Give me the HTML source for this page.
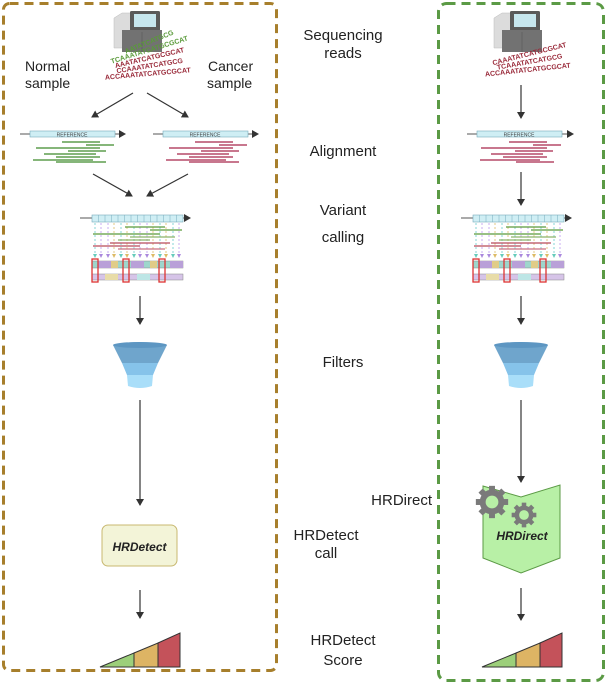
<!DOCTYPE html>
<html><head><meta charset="utf-8"><style>
html,body{margin:0;padding:0;background:#fff;}
svg{display:block;font-family:"Liberation Sans",sans-serif;}
</style></head><body>
<svg width="607" height="685" viewBox="0 0 607 685" xmlns="http://www.w3.org/2000/svg">
<defs>
<marker id="ah" markerWidth="8" markerHeight="8" refX="6" refY="4" orient="auto" markerUnits="userSpaceOnUse"><path d="M0,0 L7,4 L0,8 Z" fill="#333"/></marker>
<g id="seq">
  <path d="M-26,-20 L-18,-25 L0,-25 L0,10 L-26,10 Z" fill="#dcdcdc" stroke="#bbb" stroke-width="0.5"/>
  <rect x="-10" y="-27" width="30" height="20" rx="1.5" fill="#5a5a5a"/>
  <rect x="-6" y="-24" width="22" height="13" fill="#c6e6ee"/>
  <rect x="-18" y="-8" width="40" height="22" fill="#727272"/>
  <line x1="2" y1="-6" x2="2" y2="14" stroke="#5e5e5e" stroke-width="0.8"/>
</g>
<g id="funnel">
  <path d="M-27,0 Q0,-6 27,0 L18,18 L-18,18 Z" fill="#6fa5cc"/>
  <ellipse cx="0" cy="0" rx="27" ry="3" fill="#5d96c2"/>
  <path d="M-18,18 L18,18 L13,30 L-13,30 Z" fill="#86c3ea"/>
  <path d="M-13,30 L13,30 L12,41 Q0,45 -12,41 Z" fill="#a9def9"/>
</g>
<g id="var">
  <line x1="80" y1="218" x2="190" y2="218" stroke="#555" stroke-width="1" marker-end="url(#ah)"/>
  <rect x="92" y="215" width="91" height="7" fill="#cfeef4" stroke="#7ab" stroke-width="0.6"/>
  <g stroke="#7ab" stroke-width="0.5">
   <line x1="98.5" y1="215" x2="98.5" y2="222"/><line x1="105" y1="215" x2="105" y2="222"/><line x1="111.5" y1="215" x2="111.5" y2="222"/><line x1="118" y1="215" x2="118" y2="222"/><line x1="124.5" y1="215" x2="124.5" y2="222"/><line x1="131" y1="215" x2="131" y2="222"/><line x1="137.5" y1="215" x2="137.5" y2="222"/><line x1="144" y1="215" x2="144" y2="222"/><line x1="150.5" y1="215" x2="150.5" y2="222"/><line x1="157" y1="215" x2="157" y2="222"/><line x1="163.5" y1="215" x2="163.5" y2="222"/><line x1="170" y1="215" x2="170" y2="222"/><line x1="176.5" y1="215" x2="176.5" y2="222"/>
  </g>
  <g stroke-dasharray="2,2" stroke-width="0.8">
   <line x1="95" y1="223" x2="95" y2="255" stroke="#6cc"/><line x1="101" y1="223" x2="101" y2="255" stroke="#b9e"/><line x1="108" y1="223" x2="108" y2="255" stroke="#b9e"/><line x1="114" y1="223" x2="114" y2="255" stroke="#db6"/><line x1="121" y1="223" x2="121" y2="255" stroke="#6cc"/><line x1="127" y1="223" x2="127" y2="255" stroke="#db6"/><line x1="134" y1="223" x2="134" y2="255" stroke="#6cc"/><line x1="140" y1="223" x2="140" y2="255" stroke="#b9e"/><line x1="147" y1="223" x2="147" y2="255" stroke="#b9e"/><line x1="153" y1="223" x2="153" y2="255" stroke="#db6"/><line x1="160" y1="223" x2="160" y2="255" stroke="#6cc"/><line x1="166" y1="223" x2="166" y2="255" stroke="#db6"/><line x1="173" y1="223" x2="173" y2="255" stroke="#6cc"/><line x1="179" y1="223" x2="179" y2="255" stroke="#b9e"/>
  </g>
  <g stroke-width="1.3">
   <line x1="125" y1="227" x2="165" y2="227" stroke="#5a9a3a"/><line x1="150" y1="230" x2="182" y2="230" stroke="#5a9a3a"/><line x1="93" y1="234" x2="160" y2="234" stroke="#5a9a3a"/><line x1="130" y1="237" x2="175" y2="237" stroke="#8cb36a"/><line x1="118" y1="240" x2="150" y2="240" stroke="#8cb36a"/><line x1="110" y1="243" x2="170" y2="243" stroke="#b84a5a"/><line x1="93" y1="246" x2="140" y2="246" stroke="#b84a5a"/><line x1="118" y1="249" x2="165" y2="249" stroke="#c97080"/>
  </g>
  <g>
   <path d="M93,254 h4 l-2,4z" fill="#6cb"/><path d="M99,254 h4 l-2,4z" fill="#a8d"/><path d="M106,254 h4 l-2,4z" fill="#a8d"/><path d="M112,254 h4 l-2,4z" fill="#db6"/><path d="M119,254 h4 l-2,4z" fill="#6cb"/><path d="M125,254 h4 l-2,4z" fill="#db6"/><path d="M132,254 h4 l-2,4z" fill="#6cb"/><path d="M138,254 h4 l-2,4z" fill="#a8d"/><path d="M145,254 h4 l-2,4z" fill="#a8d"/><path d="M151,254 h4 l-2,4z" fill="#db6"/><path d="M158,254 h4 l-2,4z" fill="#6cb"/><path d="M164,254 h4 l-2,4z" fill="#db6"/><path d="M171,254 h4 l-2,4z" fill="#6cb"/><path d="M177,254 h4 l-2,4z" fill="#a8d"/>
  </g>
  <rect x="92" y="261" width="91" height="7" fill="#9ed6cc" stroke="#888" stroke-width="0.5"/>
  <rect x="98" y="261" width="13" height="7" fill="#b9a0d8"/><rect x="111" y="261" width="7" height="7" fill="#e0cc88"/><rect x="131" y="261" width="13" height="7" fill="#b9a0d8"/><rect x="150" y="261" width="7" height="7" fill="#e0cc88"/><rect x="170" y="261" width="13" height="7" fill="#b9a0d8"/>
  <rect x="92" y="274" width="91" height="6" fill="#d6c4e8" stroke="#888" stroke-width="0.5"/>
  <rect x="105" y="274" width="13" height="6" fill="#e8dca8"/><rect x="137" y="274" width="13" height="6" fill="#bde6e6"/>
  <g fill="none" stroke="#d33" stroke-width="1.3"><rect x="92" y="259" width="6" height="23"/><rect x="123" y="259" width="6" height="23"/><rect x="159" y="259" width="6" height="23"/></g>
</g>
<g id="tri">
  <path d="M0,34 L34,20 L34,34 Z" fill="#9ccf7a" stroke="#333" stroke-width="1"/>
  <path d="M34,20 L58,10 L58,34 L34,34 Z" fill="#ddb464" stroke="#333" stroke-width="1"/>
  <path d="M58,10 L80,0 L80,34 L58,34 Z" fill="#c4525a" stroke="#333" stroke-width="1"/>
</g>
<g id="gear">
  <circle r="11" fill="none" stroke="#7a7a7a" stroke-width="7"/>
  <g fill="#7a7a7a"><rect x="-3.5" y="-19" width="7" height="7"/><rect x="-3.5" y="12" width="7" height="7"/><rect x="-19" y="-3.5" width="7" height="7"/><rect x="12" y="-3.5" width="7" height="7"/>
  <g transform="rotate(45)"><rect x="-3.5" y="-19" width="7" height="7"/><rect x="-3.5" y="12" width="7" height="7"/><rect x="-19" y="-3.5" width="7" height="7"/><rect x="12" y="-3.5" width="7" height="7"/></g></g>
</g>
</defs>

<rect x="3.5" y="3.5" width="273" height="667" rx="6" fill="none" stroke="#a77f2c" stroke-width="3" stroke-dasharray="9,6"/>
<rect x="438.5" y="3.5" width="165" height="677" rx="8" fill="none" stroke="#5b9a45" stroke-width="3" stroke-dasharray="9,6"/>

<g font-size="15" fill="#222" text-anchor="middle">
<text x="343" y="40">Sequencing</text><text x="343" y="58">reads</text>
<text x="343" y="156">Alignment</text>
<text x="343" y="215">Variant</text><text x="343" y="242">calling</text>
<text x="343" y="367">Filters</text>
<text x="432" y="505" text-anchor="end">HRDirect</text>
<text x="326" y="540">HRDetect</text><text x="326" y="558">call</text>
<text x="343" y="645">HRDetect</text><text x="343" y="665">Score</text>
</g>

<!-- LEFT -->
<use href="#seq" x="140" y="38"/>
<g font-size="7" font-weight="bold" text-anchor="middle">
<text x="150" y="44" fill="#5a9a3a" transform="rotate(-22 150 44)">AATATCATGCG</text>
<text x="150" y="52" fill="#5a9a3a" transform="rotate(-17 150 52)">TCAAATATCATGCGCAT</text>
<text x="150" y="60" fill="#9a2a3a" transform="rotate(-13 150 60)">AAATATCATGCGCAT</text>
<text x="150" y="68" fill="#9a2a3a" transform="rotate(-9 150 68)">CCAAATATCATGCG</text>
<text x="148" y="76" fill="#9a2a3a" transform="rotate(-5 148 76)">ACCAAATATCATGCGCAT</text>
</g>
<g font-size="14" fill="#222">
<text x="25" y="71">Normal</text><text x="25" y="88">sample</text>
<text x="208" y="71">Cancer</text><text x="207" y="88">sample</text>
</g>
<g stroke="#333" stroke-width="1.2" marker-end="url(#ah)">
<line x1="133" y1="93" x2="92" y2="117"/><line x1="147" y1="93" x2="188" y2="117"/>
<line x1="93" y1="174" x2="132" y2="196"/><line x1="188" y1="174" x2="147" y2="196"/>
<line x1="140" y1="296" x2="140" y2="324"/>
<line x1="140" y1="400" x2="140" y2="505"/>
<line x1="140" y1="590" x2="140" y2="618"/>
</g>
<g>
<line x1="20" y1="134" x2="125" y2="134" stroke="#555" marker-end="url(#ah)"/>
<rect x="30" y="131" width="85" height="6" fill="#cfeef4" stroke="#7ab" stroke-width="0.6"/>
<text x="72" y="136.5" font-size="5" text-anchor="middle" fill="#444">REFERENCE</text>
<g stroke="#3e8a2a" stroke-width="1.2">
<line x1="62" y1="142" x2="100" y2="142"/><line x1="86" y1="145" x2="114" y2="145"/><line x1="36" y1="148" x2="100" y2="148"/><line x1="68" y1="151" x2="106" y2="151"/><line x1="44" y1="154" x2="96" y2="154"/><line x1="56" y1="157" x2="100" y2="157"/><line x1="33" y1="160" x2="93" y2="160"/><line x1="56" y1="162" x2="106" y2="162"/>
</g>
<line x1="153" y1="134" x2="258" y2="134" stroke="#555" marker-end="url(#ah)"/>
<rect x="163" y="131" width="85" height="6" fill="#cfeef4" stroke="#7ab" stroke-width="0.6"/>
<text x="205" y="136.5" font-size="5" text-anchor="middle" fill="#444">REFERENCE</text>
<g stroke="#a8264a" stroke-width="1.2">
<line x1="195" y1="142" x2="233" y2="142"/><line x1="219" y1="145" x2="247" y2="145"/><line x1="169" y1="148" x2="233" y2="148"/><line x1="201" y1="151" x2="239" y2="151"/><line x1="177" y1="154" x2="229" y2="154"/><line x1="189" y1="157" x2="233" y2="157"/><line x1="166" y1="160" x2="226" y2="160"/><line x1="189" y1="162" x2="239" y2="162"/>
</g>
</g>
<use href="#var"/>
<use href="#funnel" x="140" y="345"/>
<rect x="102" y="525" width="75" height="41" rx="6" fill="#f3f4d8" stroke="#c8b870" stroke-width="1"/>
<text x="139.5" y="551" font-size="12" font-weight="bold" font-style="italic" text-anchor="middle" fill="#222">HRDetect</text>
<use href="#tri" x="100" y="633"/>

<!-- RIGHT -->
<use href="#seq" x="520" y="38"/>
<g font-size="7" font-weight="bold" text-anchor="middle" fill="#9a2a3a">
<text x="530" y="56" transform="rotate(-14 530 56)">CAAATATCATGCGCAT</text>
<text x="530" y="64" transform="rotate(-10 530 64)">TCAAATATCATGCG</text>
<text x="528" y="72" transform="rotate(-6 528 72)">ACCAAATATCATGCGCAT</text>
</g>
<g stroke="#333" stroke-width="1.2" marker-end="url(#ah)">
<line x1="521" y1="85" x2="521" y2="118"/>
<line x1="521" y1="172" x2="521" y2="205"/>
<line x1="521" y1="296" x2="521" y2="324"/>
<line x1="521" y1="400" x2="521" y2="482"/>
<line x1="521" y1="588" x2="521" y2="620"/>
</g>
<line x1="467" y1="134" x2="573" y2="134" stroke="#555" marker-end="url(#ah)"/>
<rect x="477" y="131" width="85" height="6" fill="#cfeef4" stroke="#7ab" stroke-width="0.6"/>
<text x="519" y="136.5" font-size="5" text-anchor="middle" fill="#444">REFERENCE</text>
<g stroke="#a8264a" stroke-width="1.2">
<line x1="509" y1="142" x2="547" y2="142"/><line x1="533" y1="145" x2="561" y2="145"/><line x1="481" y1="148" x2="547" y2="148"/><line x1="515" y1="151" x2="553" y2="151"/><line x1="491" y1="154" x2="543" y2="154"/><line x1="503" y1="157" x2="547" y2="157"/><line x1="480" y1="160" x2="540" y2="160"/><line x1="516" y1="162" x2="554" y2="162"/>
</g>
<use href="#var" x="381"/>
<use href="#funnel" x="521" y="345"/>
<path d="M483,486 L521,497 L560,485 L560,558 L521,573 L483,558 Z" fill="#b8f0a6" stroke="#5b9a45" stroke-width="1"/>
<use href="#gear" transform="translate(492,502) scale(0.85)"/>
<use href="#gear" transform="translate(524,515) scale(0.65)"/>
<text x="522" y="540" font-size="12" font-weight="bold" font-style="italic" text-anchor="middle" fill="#222">HRDirect</text>
<use href="#tri" x="482" y="633"/>
</svg>
</body></html>
